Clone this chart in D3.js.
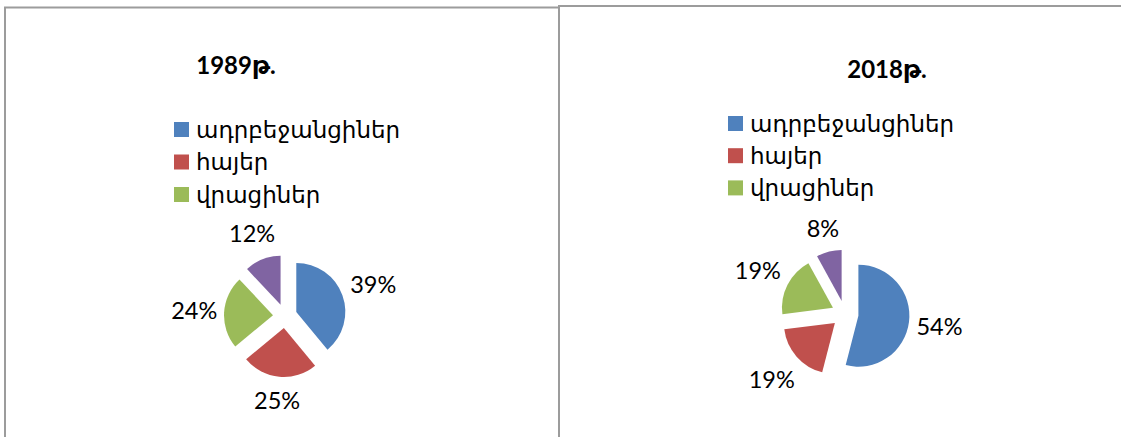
<!DOCTYPE html>
<html>
<head>
<meta charset="utf-8">
<title>1989 - 2018</title>
<script src="https://d3js.org/d3.v7.min.js"></script>
<style>
  html, body { margin: 0; padding: 0; background: #fff; }
  svg { display: block; }
  .title { font-family: Lato, "DejaVu Sans", sans-serif; font-weight: bold; font-size: 24px; }
  .legend text { font-family: "DejaVu Sans", sans-serif; font-size: 23px; }
  .pct { font-family: Lato, "DejaVu Sans", sans-serif; font-size: 23.5px; }
  .frame { fill: none; stroke: #9c9c9c; stroke-width: 2; }
</style>
</head>
<body>
<script>
// data
var categories = ["ադրբեջանցիներ", "հայեր", "վրացիներ", "այլ"];
var legendLabels = ["ադրբեջանցիներ", "հայեր", "վրացիներ"];
var years = ["1989թ.", "2018թ."];
var values1989 = [39, 25, 24, 12];
var values2018 = [54, 19, 19, 8];
var colors = ["#4f81bd", "#c0504d", "#9bbb59", "#8064a2"];

var width = 1121, height = 437;

var svg = d3.select("body").append("svg")
    .attr("width", width)
    .attr("height", height);

// panel frames (cut off by the window at the bottom and right)
svg.append("path").attr("class", "frame")
    .attr("d", "M5,440 V7.5 H559");
svg.append("path").attr("class", "frame")
    .attr("d", "M559,440 V6 H1125");

// layout of each panel
var panels = [
  { title: years[0], values: values1989, titleX: 236, titleY: 64,
    legX: 174, legY: 129.5, legStep: 32.5, cx: 285, cy: 316, r: 49, explode: 12 },
  { title: years[1], values: values2018, titleX: 887, titleY: 68,
    legX: 728, legY: 123.5, legStep: 32.2, cx: 845, cy: 314, r: 51, explode: 13.5 }
];

var pie = d3.pie().sort(null).value(function(d) { return d; });

panels.forEach(function(p) {
  var g = svg.append("g");

  g.append("text")
      .attr("class", "title")
      .attr("x", p.titleX)
      .attr("y", p.titleY)
      .attr("text-anchor", "middle")
      .attr("dominant-baseline", "central")
      .text(p.title);

  var leg = g.append("g").attr("class", "legend");
  legendLabels.forEach(function(name, i) {
    var y = p.legY + i * p.legStep;
    leg.append("rect")
        .attr("x", p.legX)
        .attr("y", y - 7.5)
        .attr("width", 15)
        .attr("height", 15)
        .attr("fill", colors[categories.indexOf(name)]);
    leg.append("text")
        .attr("x", p.legX + 22)
        .attr("y", y)
        .attr("dominant-baseline", "central")
        .text(name);
  });

  var arc = d3.arc().innerRadius(0).outerRadius(p.r);
  var arcs = pie(p.values);

  var slices = g.append("g")
      .attr("transform", "translate(" + p.cx + "," + p.cy + ")");

  arcs.forEach(function(a, i) {
    var mid = (a.startAngle + a.endAngle) / 2;
    var dx = Math.sin(mid), dy = -Math.cos(mid);

    slices.append("path")
        .attr("d", arc(a))
        .attr("fill", colors[i])
        .attr("transform", "translate(" + (dx * p.explode) + "," + (dy * p.explode) + ")");

    // outside-end label, pushed out by its own box size
    var t = slices.append("text")
        .attr("class", "pct")
        .attr("text-anchor", "middle")
        .attr("dominant-baseline", "central")
        .text(a.data + "%");
    var bb = t.node().getBBox();
    var half = Math.abs(dx) * bb.width / 2 + Math.abs(dy) * 30 / 2;
    var dist = p.r + p.explode + 6 + half;
    t.attr("x", dx * dist).attr("y", dy * dist);
  });
});
</script>
</body>
</html>
